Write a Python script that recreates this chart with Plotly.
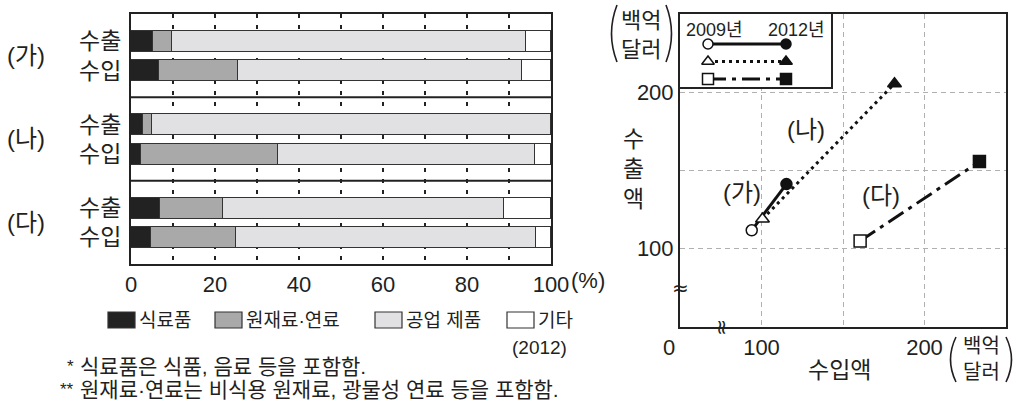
import plotly.graph_objects as go

W, H = 1034, 407


def px(v):
    return v / W


def py(v):
    return 1 - v / H


FONT = "Liberation Sans, Noto Sans CJK KR, sans-serif"
INK = "#231f20"

# ---------------- data: trade composition (2012, %) ----------------
groups = ["(가)", "(나)", "(다)"]
flows = ["수출", "수입"]
categories = ["식료품", "원재료·연료", "공업 제품", "기타"]
cat_colors = ["#222222", "#a9a9a9", "#e1e1e3", "#ffffff"]
# rows: (가)수출, (가)수입, (나)수출, (나)수입, (다)수출, (다)수입
food = [5.3, 6.6, 2.8, 2.3, 6.9, 4.8]
raw = [4.5, 18.9, 2.1, 32.6, 15.0, 20.3]
manuf = [84.2, 67.7, 95.1, 61.2, 66.9, 71.3]
other = [6.0, 6.8, 0.0, 3.9, 11.2, 3.6]
bar_ticks = [0, 20, 40, 60, 80, 100]

# ---------------- data: imports vs exports (백억 달러) ----------------
import_2009 = [94.0, 100.6, 160.5]
import_2012 = [115.3, 181.6, 233.7]
export_2009 = [111.8, 119.0, 104.9]
export_2012 = [141.3, 205.5, 155.7]
years = ["2009년", "2012년"]
symbols = ["circle", "triangle-up", "square"]
dashes = ["solid", "3px,4px", "18px,6px,4px,6px"]
msizes = [11, 12, 12]

fig = go.Figure()

# ---------------- stacked bars ----------------
ypos = [g + off for g in range(len(groups)) for off in (0.33, 0.68)]
row_labels = [f for _ in groups for f in flows]
for name, vals, col in zip(categories, [food, raw, manuf, other], cat_colors):
    fig.add_trace(go.Bar(
        x=vals, y=ypos, orientation="h", name=name, width=0.252,
        marker=dict(color=col, line=dict(color="#333333", width=1.5)),
        xaxis="x", yaxis="y", showlegend=False, hoverinfo="skip"))

# ---------------- scatter ----------------
for i, g in enumerate(groups):
    fig.add_trace(go.Scatter(
        x=[import_2009[i], import_2012[i]], y=[export_2009[i], export_2012[i]],
        mode="lines+markers", name=g, xaxis="x2", yaxis="y2", showlegend=False,
        line=dict(color="#111111", width=3, dash=dashes[i]),
        marker=dict(symbol=symbols[i], size=msizes[i], color=["white", "#111111"],
                    line=dict(color="#111111", width=1.5))))

# legend samples (inside the boxed key)
for i, g in enumerate(groups):
    fig.add_trace(go.Scatter(
        x=[0, 1], y=[i, i], mode="lines+markers", xaxis="x3", yaxis="y3",
        showlegend=False, hoverinfo="skip",
        line=dict(color="#111111", width=3, dash=dashes[i]),
        marker=dict(symbol=symbols[i], size=10 if i == 0 else 11,
                    color=["white", "#111111"],
                    line=dict(color="#111111", width=1.5))))

axis_common = dict(showline=True, mirror=True, linecolor="#222222", linewidth=2,
                   zeroline=False, ticks="", fixedrange=True)

fig.update_layout(
    width=W, height=H, template="none",
    margin=dict(l=0, r=0, t=0, b=0),
    paper_bgcolor="white", plot_bgcolor="white",
    barmode="stack", bargap=0,
    font=dict(family=FONT, color=INK, size=20),
    xaxis=dict(domain=[px(131), px(551)], range=[0, 100],
               tickvals=list(range(0, 101, 10)),
               ticktext=[str(v) if v in bar_ticks else "" for v in range(0, 101, 10)],
               showgrid=True, gridcolor="#222222", gridwidth=1.5, griddash="4px,7px",
               tickfont=dict(size=22, family=FONT), **axis_common),
    yaxis=dict(domain=[py(264), py(14)], range=[3, 0], showgrid=False,
               showticklabels=False, anchor="x", **axis_common),
    xaxis2=dict(domain=[px(680), px(1006)], range=[50, 250], anchor="y2",
                tickvals=[100, 150, 200], ticktext=["100", "", "200"],
                showgrid=True, gridcolor="#b0b0b0", gridwidth=1, griddash="5px,4px",
                tickfont=dict(size=22, family=FONT), **axis_common),
    yaxis2=dict(domain=[py(327), py(14)], range=[50, 250], anchor="x2",
                tickvals=[100, 150, 200], ticktext=["100", "", "200"],
                showgrid=True, gridcolor="#b0b0b0", gridwidth=1, griddash="5px,4px",
                tickfont=dict(size=22, family=FONT), **axis_common),
    xaxis3=dict(domain=[px(680), px(831)], range=[-0.359, 1.577], anchor="y3",
                showgrid=False, showticklabels=False, **axis_common),
    yaxis3=dict(domain=[py(87), py(14)], range=[2.457, -1.714], anchor="x3",
                showgrid=False, showticklabels=False, **axis_common),
)

ann = []
shapes = []

# group separators
for g in range(1, len(groups)):
    shapes.append(dict(type="line", xref="x", yref="y", x0=0, x1=100, y0=g, y1=g,
                       line=dict(color="#222222", width=2)))

# group / flow labels
for g, lab in enumerate(groups):
    ann.append(dict(text=lab, xref="paper", yref="y", x=px(26), y=g + 0.5,
                    xanchor="center", yanchor="middle", showarrow=False,
                    font=dict(size=24, family=FONT)))
for yv, lab in zip(ypos, row_labels):
    ann.append(dict(text=lab, xref="paper", yref="y", x=px(123), y=yv,
                    xanchor="right", yanchor="middle", showarrow=False,
                    font=dict(size=23, family=FONT)))

ann.append(dict(text="(%)", xref="paper", yref="paper", x=px(569), y=py(280),
                xanchor="left", yanchor="middle", showarrow=False,
                font=dict(size=22, family=FONT)))

# bar legend
sq_left = [108, 215, 375, 507]
for left, name, col in zip(sq_left, categories, cat_colors):
    shapes.append(dict(type="rect", xref="paper", yref="paper",
                       x0=px(left), x1=px(left + 27), y0=py(328), y1=py(312),
                       fillcolor=col, line=dict(color="#333333", width=1.2)))
    ann.append(dict(text=name, xref="paper", yref="paper", x=px(left + 29), y=py(320),
                    xanchor="left", yanchor="middle", showarrow=False,
                    font=dict(size=19, family=FONT)))
ann.append(dict(text="(2012)", xref="paper", yref="paper", x=px(539), y=py(347),
                xanchor="center", yanchor="middle", showarrow=False,
                font=dict(size=19, family=FONT)))

# footnotes
notes = [("*", "식료품은 식품, 음료 등을 포함함."),
         ("**", "원재료·연료는 비식용 원재료, 광물성 연료 등을 포함함.")]
for k, (mark, txt) in enumerate(notes):
    yy = 366 + 23 * k
    ann.append(dict(text=mark, xref="paper", yref="paper", x=px(76), y=py(yy),
                    xanchor="right", yanchor="middle", showarrow=False,
                    font=dict(size=17, family=FONT)))
    ann.append(dict(text=txt, xref="paper", yref="paper", x=px(78), y=py(yy),
                    xanchor="left", yanchor="middle", showarrow=False,
                    font=dict(size=21, family=FONT)))

# scatter labels
label_pos = [(88.3, 135.7), (127.4, 176.0), (173.4, 134.3)]
for lab, (lx, ly) in zip(groups, label_pos):
    ann.append(dict(text=lab, xref="x2", yref="y2", x=lx, y=ly,
                    xanchor="center", yanchor="middle", showarrow=False,
                    font=dict(size=24, family=FONT)))

# axis zero label and breaks
ann.append(dict(text="0", xref="paper", yref="paper", x=px(669), y=py(347),
                xanchor="center", yanchor="middle", showarrow=False,
                font=dict(size=22, family=FONT)))
ann.append(dict(text="≈", xref="paper", yref="y2", x=px(680), y=75,
                xanchor="center", yanchor="middle", showarrow=False,
                font=dict(size=20, family="DejaVu Sans")))
ann.append(dict(text="≈", xref="x2", yref="paper", x=75, y=py(327), textangle=-90,
                xanchor="center", yanchor="middle", showarrow=False,
                font=dict(size=20, family="DejaVu Sans")))

# axis titles
ann.append(dict(text="수<br>출<br>액", xref="paper", yref="paper", x=px(633), y=py(169),
                xanchor="center", yanchor="middle", showarrow=False,
                font=dict(size=23, family=FONT)))
ann.append(dict(text="수입액", xref="paper", yref="paper", x=px(839), y=py(370),
                xanchor="center", yanchor="middle", showarrow=False,
                font=dict(size=23, family=FONT)))

# units with tall parentheses
ann.append(dict(text="백억<br>달러", xref="paper", yref="paper", x=px(641), y=py(35),
                xanchor="center", yanchor="middle", showarrow=False,
                font=dict(size=22, family=FONT)))
ann.append(dict(text="백억<br>달러", xref="paper", yref="paper", x=px(981), y=py(359),
                xanchor="center", yanchor="middle", showarrow=False,
                font=dict(size=20, family=FONT)))


def paren(xe, xc, y0, y1):
    ym = (y0 + y1) / 2
    return (f"M {px(xe)},{py(y0)} Q {px(xc)},{py(ym)} {px(xe)},{py(y1)}")


for xe, xc, y0, y1 in [(617, 606, 5, 62), (666, 677, 5, 62),
                       (956, 945, 337, 382), (1006, 1017, 337, 382)]:
    shapes.append(dict(type="path", xref="paper", yref="paper", path=paren(xe, xc, y0, y1),
                       line=dict(color=INK, width=1.6)))

# legend key headers
ann.append(dict(text=years[0], xref="paper", yref="paper", x=px(684), y=py(30),
                xanchor="left", yanchor="middle", showarrow=False,
                font=dict(size=18, family=FONT)))
ann.append(dict(text=years[1], xref="paper", yref="paper", x=px(827), y=py(30),
                xanchor="right", yanchor="middle", showarrow=False,
                font=dict(size=18, family=FONT)))

fig.update_layout(annotations=ann, shapes=shapes)
fig.write_html("out.html", config={"displayModeBar": False},
               post_script="document.body.style.margin='0';")
